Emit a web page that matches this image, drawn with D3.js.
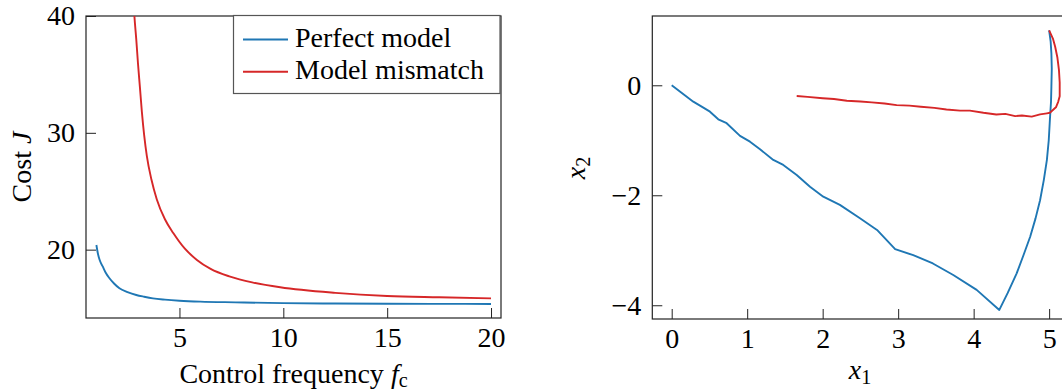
<!DOCTYPE html>
<html>
<head>
<meta charset="utf-8">
<script src="https://cdn.jsdelivr.net/npm/d3@7"></script>
<style>
  body { margin: 0; background: #fff; }
  svg text { font-family: "Liberation Serif", "Times New Roman", serif; fill: #000; }
</style>
</head>
<body>
<svg id="chart" width="1062" height="392"></svg>
<script>
// ---- left panel: cost vs control frequency ----
var freqPerfect = [1, 1.07, 1.15, 1.31, 1.45, 1.63, 1.85, 2.11, 2.5, 2.92, 3.3, 3.72, 4.3, 5, 6, 7.7, 10, 12.5, 15, 17.5, 20];
var costPerfect = [20.4, 19.69, 19.15, 18.54, 18.02, 17.55, 17.1, 16.69, 16.37, 16.12, 15.97, 15.83, 15.72, 15.63, 15.55, 15.49, 15.42, 15.39, 15.37, 15.36, 15.35];

var freqMismatch = [2.78, 2.83, 2.92, 3.0, 3.1, 3.19, 3.3, 3.43, 3.65, 3.91, 4.3, 4.71, 5.25, 5.84, 6.5, 7.44, 8.5, 9.85, 12.5, 15, 17.5, 20];
var costMismatch = [41.5, 40, 38.0, 36.0, 33.8, 31.8, 29.8, 28.0, 26.0, 24.3, 22.6, 21.4, 20.1, 19.12, 18.35, 17.69, 17.2, 16.78, 16.3, 16.03, 15.92, 15.83];

var leftXTicks = [5, 10, 15, 20];
var leftYTicks = [20, 30, 40];
var legendLabels = ["Perfect model", "Model mismatch"];

// ---- right panel: state trajectories ----
var trajPerfectX1 = [0, 0.286, 0.397, 0.507, 0.617, 0.728, 0.905, 1.037, 1.17, 1.346, 1.478, 1.656, 1.832, 2.008, 2.228, 2.494, 2.72, 2.96,
    3.2, 3.46, 3.73, 4.04, 4.34, 4.45, 4.57, 4.66, 4.75, 4.82, 4.88, 4.93, 4.97, 4.995, 5.01, 5.025, 5.03, 5.035, 5.03, 5.02, 5.0];
var trajPerfectX2 = [0, -0.298, -0.389, -0.48, -0.618, -0.69, -0.92, -1.025, -1.164, -1.358, -1.449, -1.631, -1.844, -2.025, -2.175, -2.418, -2.63, -2.98,
    -3.09, -3.24, -3.45, -3.72, -4.085, -3.78, -3.42, -3.09, -2.75, -2.42, -2.09, -1.72, -1.36, -1.0, -0.63, -0.3, -0.025, 0.3, 0.58, 0.8, 1.0];

var trajMismatchX1 = [1.656, 1.8, 2.0, 2.15, 2.32, 2.5, 2.65, 2.82, 2.98, 3.15, 3.3, 3.48, 3.64, 3.82, 3.95, 4.13, 4.3, 4.42, 4.55, 4.64, 4.77, 4.88, 4.97, 5.01,
    5.09, 5.12, 5.14, 5.14, 5.13, 5.11, 5.08, 5.05, 5.0];
var trajMismatchX2 = [-0.195, -0.21, -0.235, -0.25, -0.28, -0.295, -0.31, -0.33, -0.36, -0.37, -0.39, -0.41, -0.44, -0.46, -0.46, -0.5, -0.53, -0.52, -0.56, -0.55, -0.57, -0.53, -0.51, -0.5,
    -0.4, -0.3, -0.2, 0.05, 0.28, 0.5, 0.7, 0.85, 1.0];

var rightXTicks = [0, 1, 2, 3, 4, 5];
var rightYTicks = [-4, -2, 0];

var blue = "#1f77b4", red = "#d62728";
var fontSize = 28;

var svg = d3.select("#chart");

function drawFrame(g, xScale, yScale, xTicks, yTicks, clipId) {
    var x0 = xScale.range()[0], x1 = xScale.range()[1];
    var y0 = yScale.range()[1], y1 = yScale.range()[0];

    g.append("clipPath").attr("id", clipId)
        .append("rect")
        .attr("x", x0).attr("y", y0)
        .attr("width", x1 - x0).attr("height", y1 - y0);

    var xAxis = d3.axisBottom(xScale).tickValues(xTicks).tickFormat(d3.format("d"))
        .tickSize(-10).tickPadding(9).tickSizeOuter(0);
    var yAxis = d3.axisLeft(yScale).tickValues(yTicks).tickFormat(d3.format("d"))
        .tickSize(-10).tickPadding(11).tickSizeOuter(0);

    var gx = g.append("g").attr("transform", "translate(0," + y1 + ")").call(xAxis);
    var gy = g.append("g").attr("transform", "translate(" + x0 + ",0)").call(yAxis);

    [gx, gy].forEach(function (a) {
        a.select(".domain").remove();
        a.selectAll(".tick line").attr("stroke", "#222").attr("stroke-width", 1);
        a.selectAll(".tick text")
            .style("font-family", '"Liberation Serif", serif')
            .style("font-size", fontSize + "px")
            .attr("fill", "#000");
    });

    g.append("rect")
        .attr("x", x0).attr("y", y0)
        .attr("width", x1 - x0).attr("height", y1 - y0)
        .attr("fill", "none")
        .attr("stroke", "#222")
        .attr("stroke-width", 1.2);
}

function drawLine(g, xs, ys, xScale, yScale, color, curve, clipId) {
    var pts = xs.map(function (d, i) { return [d, ys[i]]; });
    g.append("path")
        .datum(pts)
        .attr("clip-path", "url(#" + clipId + ")")
        .attr("fill", "none")
        .attr("stroke", color)
        .attr("stroke-width", 1.9)
        .attr("stroke-linejoin", "round")
        .attr("d", d3.line()
            .curve(curve)
            .x(function (d) { return xScale(d[0]); })
            .y(function (d) { return yScale(d[1]); }));
}

// ---------- left panel ----------
var left = svg.append("g").attr("class", "left-panel");
var xL = d3.scaleLinear().domain([0.5, 20.48]).range([86, 501]);
var yL = d3.scaleLinear().domain([14.15, 40]).range([318, 16]);

drawFrame(left, xL, yL, leftXTicks, leftYTicks, "clipL");
drawLine(left, freqPerfect, costPerfect, xL, yL, blue, d3.curveMonotoneX, "clipL");
drawLine(left, freqMismatch, costMismatch, xL, yL, red, d3.curveMonotoneX, "clipL");

// legend
var legend = left.append("g").attr("class", "legend");
legend.append("rect")
    .attr("x", 233.5).attr("y", 15.5)
    .attr("width", 266.5).attr("height", 78)
    .attr("fill", "#fff")
    .attr("stroke", "#555")
    .attr("stroke-width", 1.2);
[blue, red].forEach(function (c, i) {
    var cy = 39.5 + i * 32.3;
    legend.append("line")
        .attr("x1", 243).attr("x2", 288)
        .attr("y1", cy).attr("y2", cy)
        .attr("stroke", c).attr("stroke-width", 1.9);
    legend.append("text")
        .attr("x", 295).attr("y", cy + 7)
        .style("font-size", fontSize + "px")
        .text(legendLabels[i]);
});

// axis labels
var xlab = left.append("text")
    .attr("x", 293.5).attr("y", 383)
    .attr("text-anchor", "middle")
    .style("font-size", fontSize + "px");
xlab.append("tspan").text("Control frequency ");
xlab.append("tspan").style("font-style", "italic").text("f");
xlab.append("tspan").attr("dy", 4).style("font-size", (fontSize * 0.72) + "px").text("c");

var ylab = left.append("text")
    .attr("transform", "translate(31,167) rotate(-90)")
    .attr("text-anchor", "middle")
    .style("font-size", fontSize + "px");
ylab.append("tspan").text("Cost ");
ylab.append("tspan").style("font-style", "italic").text("J");

// ---------- right panel ----------
var right = svg.append("g").attr("class", "right-panel");
var xR = d3.scaleLinear().domain([-0.257, 5.25]).range([652.3, 1068]);
var yR = d3.scaleLinear().domain([-4.25, 1.26]).range([319, 16]);

drawFrame(right, xR, yR, rightXTicks, rightYTicks, "clipR");
drawLine(right, trajPerfectX1, trajPerfectX2, xR, yR, blue, d3.curveLinear, "clipR");
drawLine(right, trajMismatchX1, trajMismatchX2, xR, yR, red, d3.curveLinear, "clipR");

var x1lab = right.append("text")
    .attr("x", 860).attr("y", 379)
    .attr("text-anchor", "middle")
    .style("font-size", fontSize + "px");
x1lab.append("tspan").style("font-style", "italic").text("x");
x1lab.append("tspan").attr("dy", 5).style("font-size", (fontSize * 0.72) + "px").text("1");

var x2lab = right.append("text")
    .attr("transform", "translate(585,168) rotate(-90)")
    .attr("text-anchor", "middle")
    .style("font-size", fontSize + "px");
x2lab.append("tspan").style("font-style", "italic").text("x");
x2lab.append("tspan").attr("dy", 5).style("font-size", (fontSize * 0.72) + "px").text("2");
</script>
</body>
</html>
